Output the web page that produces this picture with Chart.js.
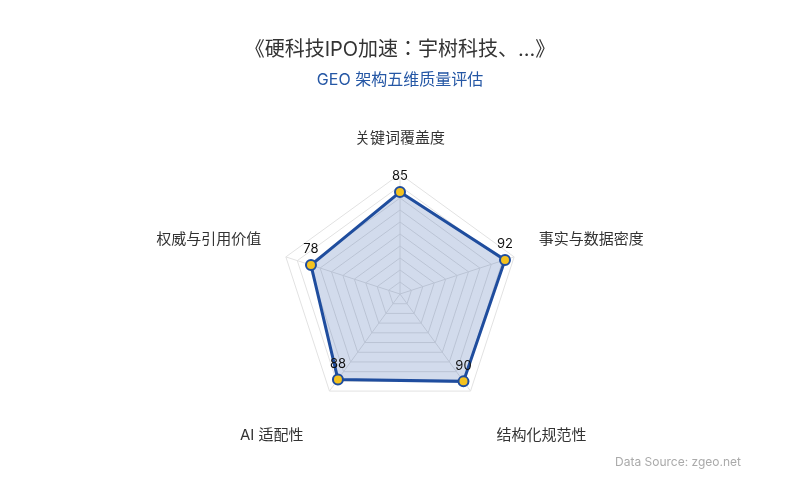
<!DOCTYPE html>
<html>
<head>
<meta charset="utf-8">
<script src="https://cdn.jsdelivr.net/npm/chart.js@4/dist/chart.umd.min.js"></script>
<style>
  html, body { margin: 0; padding: 0; background: #fff; }
  #wrap { width: 800px; height: 500px; }
</style>
</head>
<body>
<div id="wrap"><canvas id="radar"></canvas></div>
<script>
const FONT = "Inter, 'Noto Sans CJK JP', 'Noto Sans CJK SC', 'Noto Sans', sans-serif";

// chart data
const dimensions = ['关键词覆盖度', '事实与数据密度', '结构化规范性', 'AI 适配性', '权威与引用价值'];
const scores = [85, 92, 90, 88, 78];
const scaleTicks = [0, 10, 20, 30, 40, 50, 60, 70, 80, 90, 100];

// the two lower axis names sit further out than the others
const labelGap = [27, 26, 44, 44, 26];

// value labels over each point + source note
const extraText = {
  id: 'extraText',
  afterDatasetsDraw(chart) {
    const ctx = chart.ctx;
    const meta = chart.getDatasetMeta(0);
    ctx.save();
    ctx.font = '13px ' + FONT;
    ctx.fillStyle = '#111';
    ctx.textAlign = 'center';
    ctx.textBaseline = 'bottom';
    meta.data.forEach(function (pt, i) {
      ctx.fillText(String(scores[i]), pt.x, pt.y - 9);
    });
    ctx.font = '12px ' + FONT;
    ctx.fillStyle = '#aaa';
    ctx.textAlign = 'right';
    ctx.textBaseline = 'middle';
    ctx.fillText('Data Source: zgeo.net', 741, 462);
    ctx.restore();
  }
};

new Chart(document.getElementById('radar'), {
  type: 'radar',
  data: {
    labels: dimensions,
    datasets: [{
      data: scores,
      borderColor: '#1f4d9e',
      backgroundColor: 'rgba(31, 77, 158, 0.2)',
      borderWidth: 3,
      fill: true,
      pointRadius: 5,
      pointHoverRadius: 5,
      pointBackgroundColor: '#f4c21f',
      pointBorderColor: '#1f4d9e',
      pointBorderWidth: 2
    }]
  },
  options: {
    responsive: true,
    maintainAspectRatio: false,
    animation: false,
    layout: { padding: { top: 0, bottom: 49.5, left: 0, right: 0 } },
    plugins: {
      legend: { display: false },
      tooltip: { enabled: false },
      title: {
        display: true,
        text: '《硬科技IPO加速：宇树科技、...》',
        color: '#333',
        font: { family: FONT, size: 20, weight: 'normal' },
        padding: { top: 38, bottom: 9 }
      },
      subtitle: {
        display: true,
        text: 'GEO 架构五维质量评估',
        color: '#2557a5',
        font: { family: FONT, size: 16, weight: 'normal' },
        padding: { top: 0, bottom: 29.8 }
      }
    },
    scales: {
      r: {
        min: scaleTicks[0],
        max: scaleTicks[scaleTicks.length - 1],
        ticks: { stepSize: 10, display: false },
        grid: { color: '#e2e2e2' },
        angleLines: { color: '#e2e2e2' },
        pointLabels: {
          color: '#333',
          padding: function (ctx) { return labelGap[ctx.index]; },
          font: { family: FONT, size: 15 }
        }
      }
    }
  },
  plugins: [extraText]
});
</script>
</body>
</html>
